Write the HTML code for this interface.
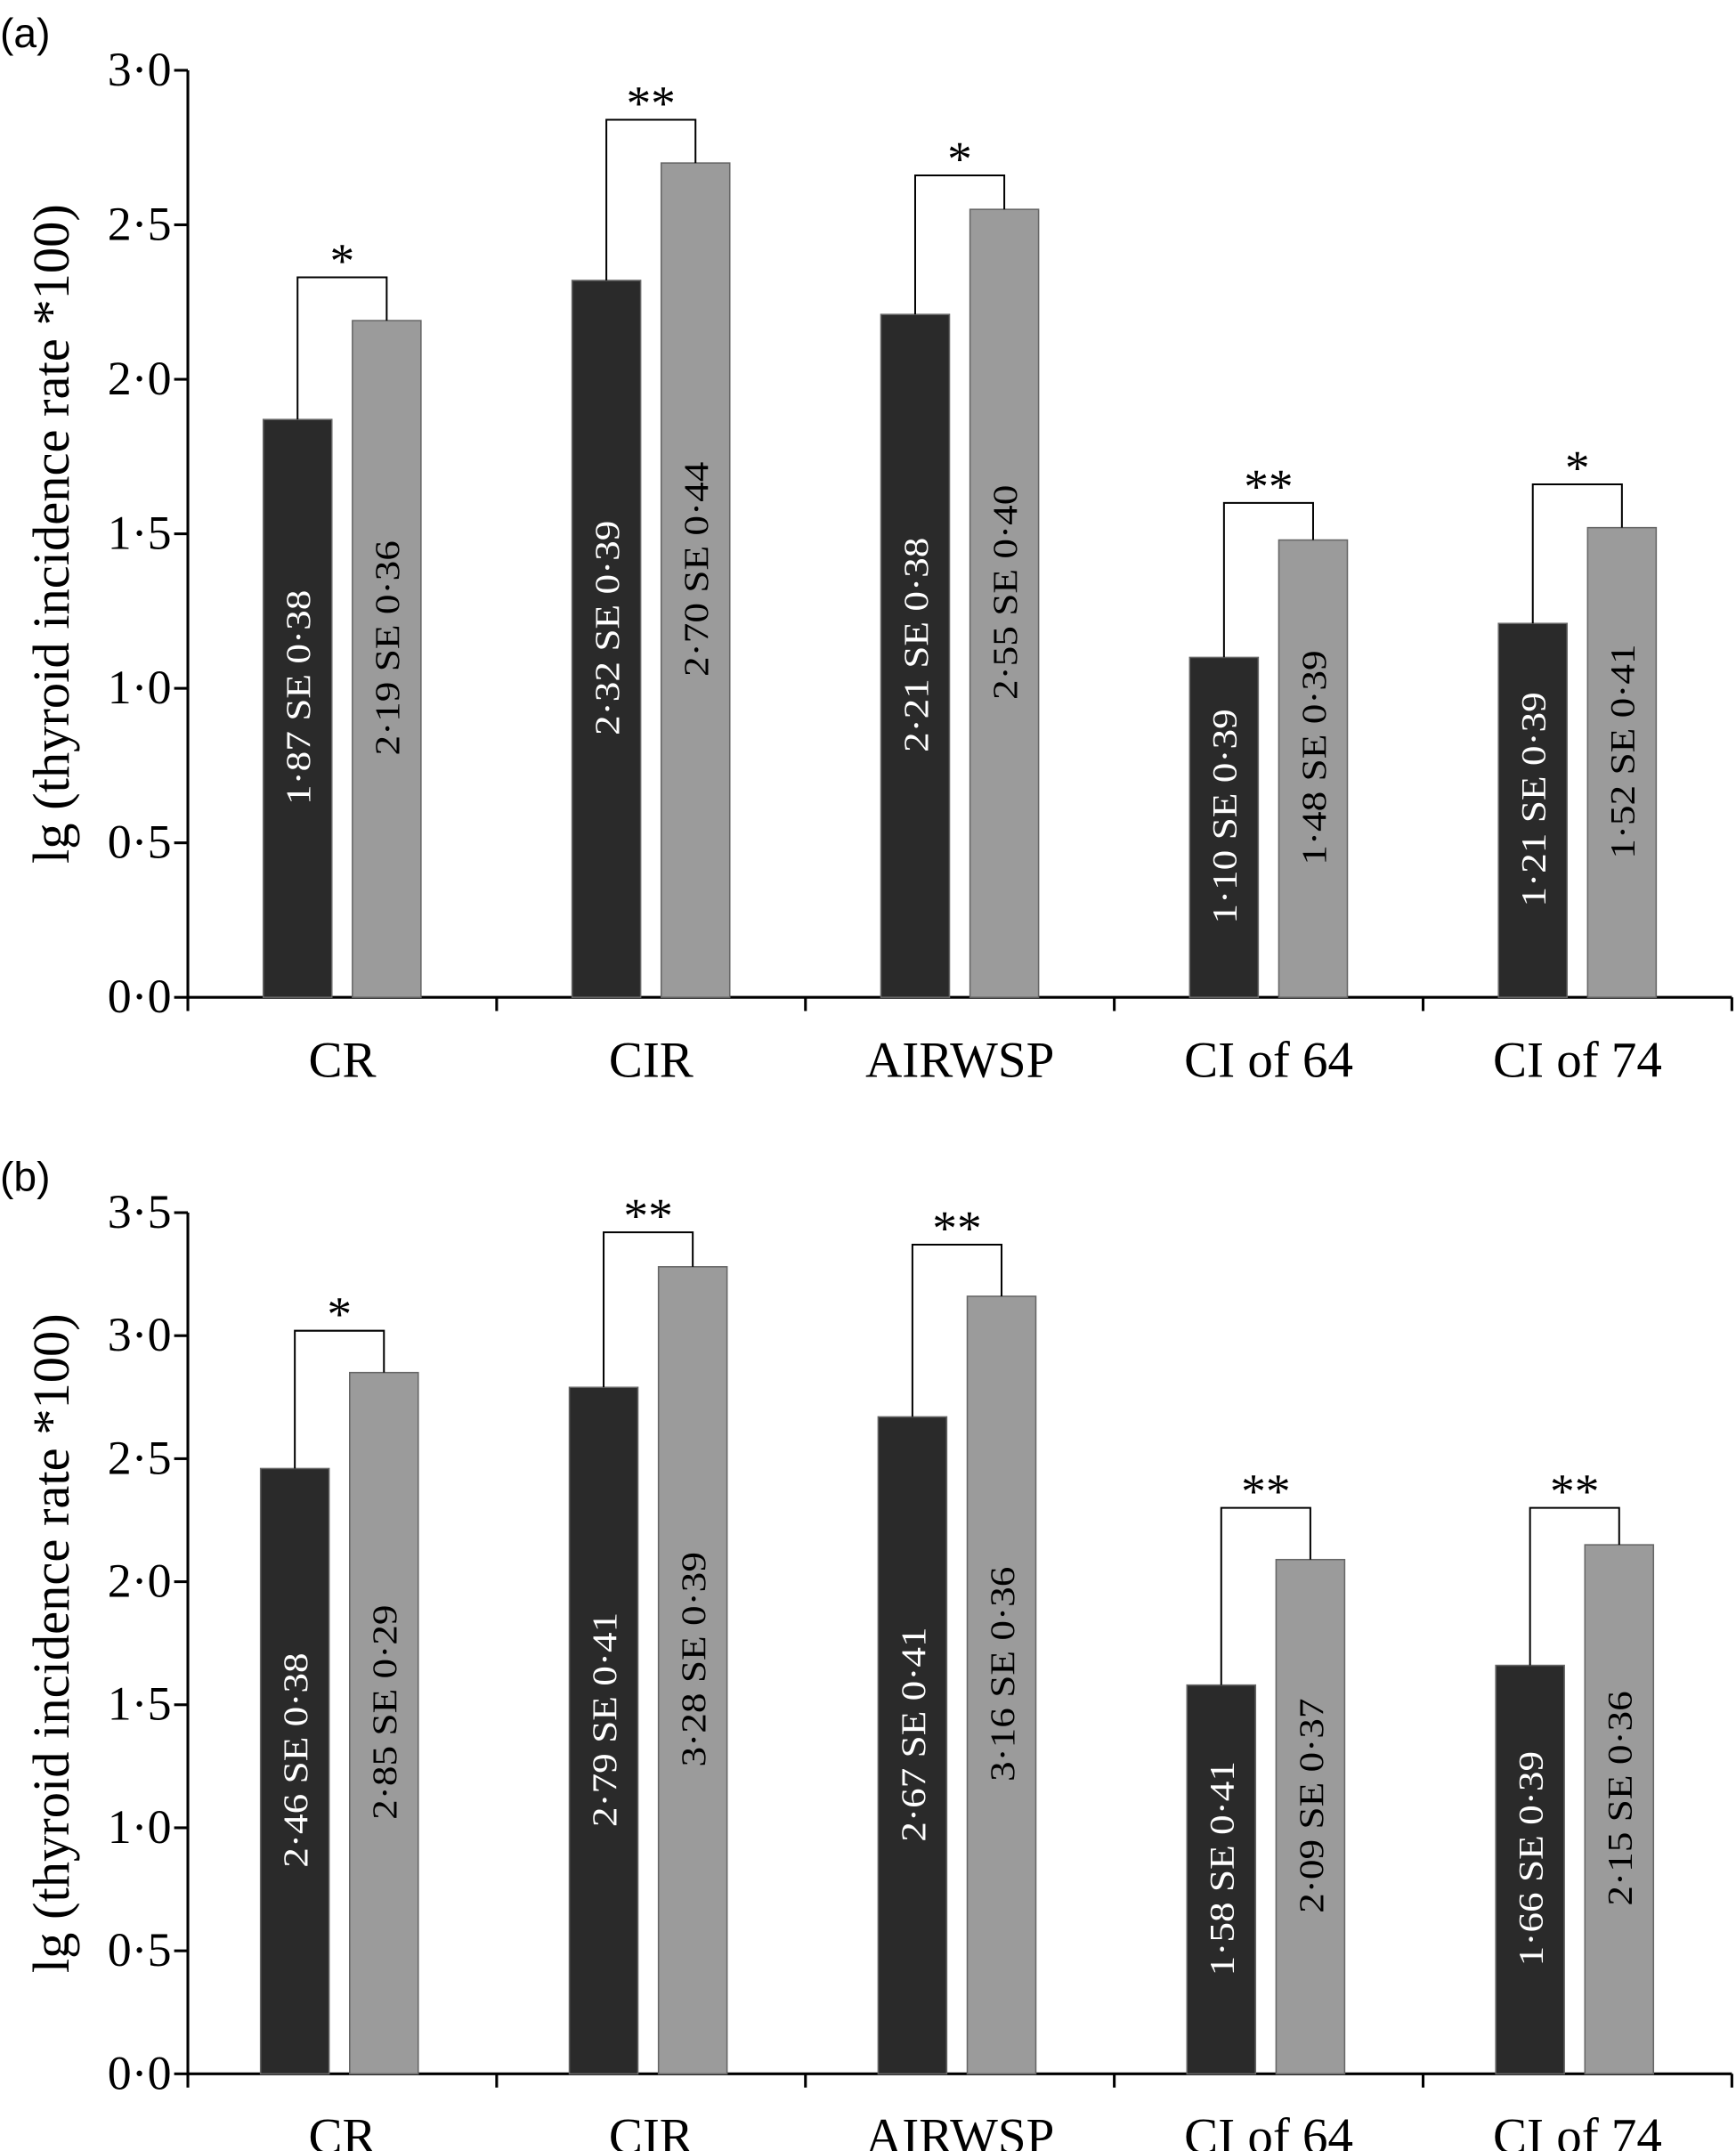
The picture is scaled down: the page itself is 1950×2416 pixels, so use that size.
<!DOCTYPE html>
<html><head><meta charset="utf-8">
<style>html,body{margin:0;padding:0;background:#fff;}svg{display:block;}text{font-family:"Liberation Serif",serif;}</style>
</head><body>
<svg id="chart" width="1950" height="2416" viewBox="0 0 1266 1568" xmlns="http://www.w3.org/2000/svg">
<text x="0" y="34" font-size="30" style="font-family:'Liberation Sans',sans-serif">(a)</text>
<text x="0" y="868" font-size="30" style="font-family:'Liberation Sans',sans-serif">(b)</text>
</svg>
<script>
const categories = ["CR","CIR","AIRWSP","CI of 64","CI of 74"];
const aDark = [1.87,2.32,2.21,1.10,1.21];
const aDarkSE = ["0·38","0·39","0·38","0·39","0·39"];
const aGray = [2.19,2.70,2.55,1.48,1.52];
const aGraySE = ["0·36","0·44","0·40","0·39","0·41"];
const aStars = ["*","**","*","**","*"];
const aBracket = [2.33,2.84,2.66,1.60,1.66];
const aTicks = [0,0.5,1.0,1.5,2.0,2.5,3.0];
const bDark = [2.46,2.79,2.67,1.58,1.66];
const bDarkSE = ["0·38","0·41","0·41","0·41","0·39"];
const bGray = [2.85,3.28,3.16,2.09,2.15];
const bGraySE = ["0·29","0·39","0·36","0·37","0·36"];
const bStars = ["*","**","**","**","**"];
const bBracket = [3.02,3.42,3.37,2.30,2.30];
const bTicks = [0,0.5,1.0,1.5,2.0,2.5,3.0,3.5];

const svg = document.getElementById('chart');
const NS = 'http://www.w3.org/2000/svg';
function mk(tag, attrs, parent){const e=document.createElementNS(NS,tag);for(const k in attrs)e.setAttribute(k,attrs[k]);(parent||svg).appendChild(e);return e;}
function fmt(v){return v.toFixed(2).replace('.','·');}
function fmt1(v){return v.toFixed(1).replace('.','·');}

function panel(p, dark, darkSE, gray, graySE, stars, brk, ticks, y0, yTop, vmax, bOff){
  const g = mk('g',{});
  
  
  const x0=137, cw=225.2;
  const y=v=>y0-(y0-yTop)*v/vmax;
  const ya=mk('line',{x1:x0,y1:yTop,x2:x0,y2:y0,stroke:'#000','stroke-width':2},g);
  
  
  const xa=mk('line',{x1:x0,y1:y0,x2:x0+cw*5,y2:y0,stroke:'#000','stroke-width':2},g);
  
  
  ticks.forEach(t=>{
    mk('line',{x1:x0-10,y1:y(t),x2:x0,y2:y(t),stroke:'#000','stroke-width':2},g);
    const tl=mk('text',{x:x0-12,y:y(t)+11,'font-size':35,'text-anchor':'end'},g);
    
    
    tl.textContent=fmt1(t);
  });
  for(let i=0;i<=5;i++) mk('line',{x1:x0+cw*i,y1:y0,x2:x0+cw*i,y2:y0+10,stroke:'#000','stroke-width':2},g);
  const yt=mk('text',{x:0,y:0,'font-size':38,'text-anchor':'middle',transform:`translate(50,${(y0+yTop)/2}) rotate(-90)`},g);
  
  
  yt.textContent='lg (thyroid incidence rate *100)';
  categories.forEach((c,i)=>{
    const cx=x0+cw*i;
    const xl=mk('text',{x:cx+cw/2,y:y0+58,'font-size':37,'text-anchor':'middle'},g);
    
    
    xl.textContent=c;
    const dx=cx+bOff, gx=cx+bOff+65, w=50;
    const bd=mk('rect',{x:dx,y:y(dark[i]),width:w,height:y0-y(dark[i]),fill:'#2a2a2a',stroke:'#666','stroke-width':1},g);
    
    
    const bg=mk('rect',{x:gx,y:y(gray[i]),width:w,height:y0-y(gray[i]),fill:'#9b9b9b',stroke:'#666','stroke-width':1},g);
    
    
    [[dx,dark[i],darkSE[i],'#fff'],[gx,gray[i],graySE[i],'#000']].forEach(([bx,v,se,col])=>{
      const my=(y(v)+y0)/2-8;
      const t=mk('text',{x:0,y:0,'font-size':28,fill:col,'text-anchor':'middle',transform:`translate(${bx+w/2+9},${my}) rotate(-90) scale(1.05,0.9)`},g);
      
      
      t.textContent=fmt(v)+' SE '+se;
    });
    const by=y(brk[i]);
    const br=mk('polyline',{points:`${dx+w/2},${y(dark[i])} ${dx+w/2},${by} ${gx+w/2},${by} ${gx+w/2},${y(gray[i])}`,fill:'none',stroke:'#000','stroke-width':1.3},g);
    
    
    const st=mk('text',{x:(dx+gx+w)/2,y:by,'font-size':36,'text-anchor':'middle'},g);
    
    
    st.textContent=stars[i];
  });
}
panel('a',aDark,aDarkSE,aGray,aGraySE,aStars,aBracket,aTicks,727,51,3.0,55);
panel('b',bDark,bDarkSE,bGray,bGraySE,bStars,bBracket,bTicks,1512,884,3.5,53);
</script>
</body></html>
